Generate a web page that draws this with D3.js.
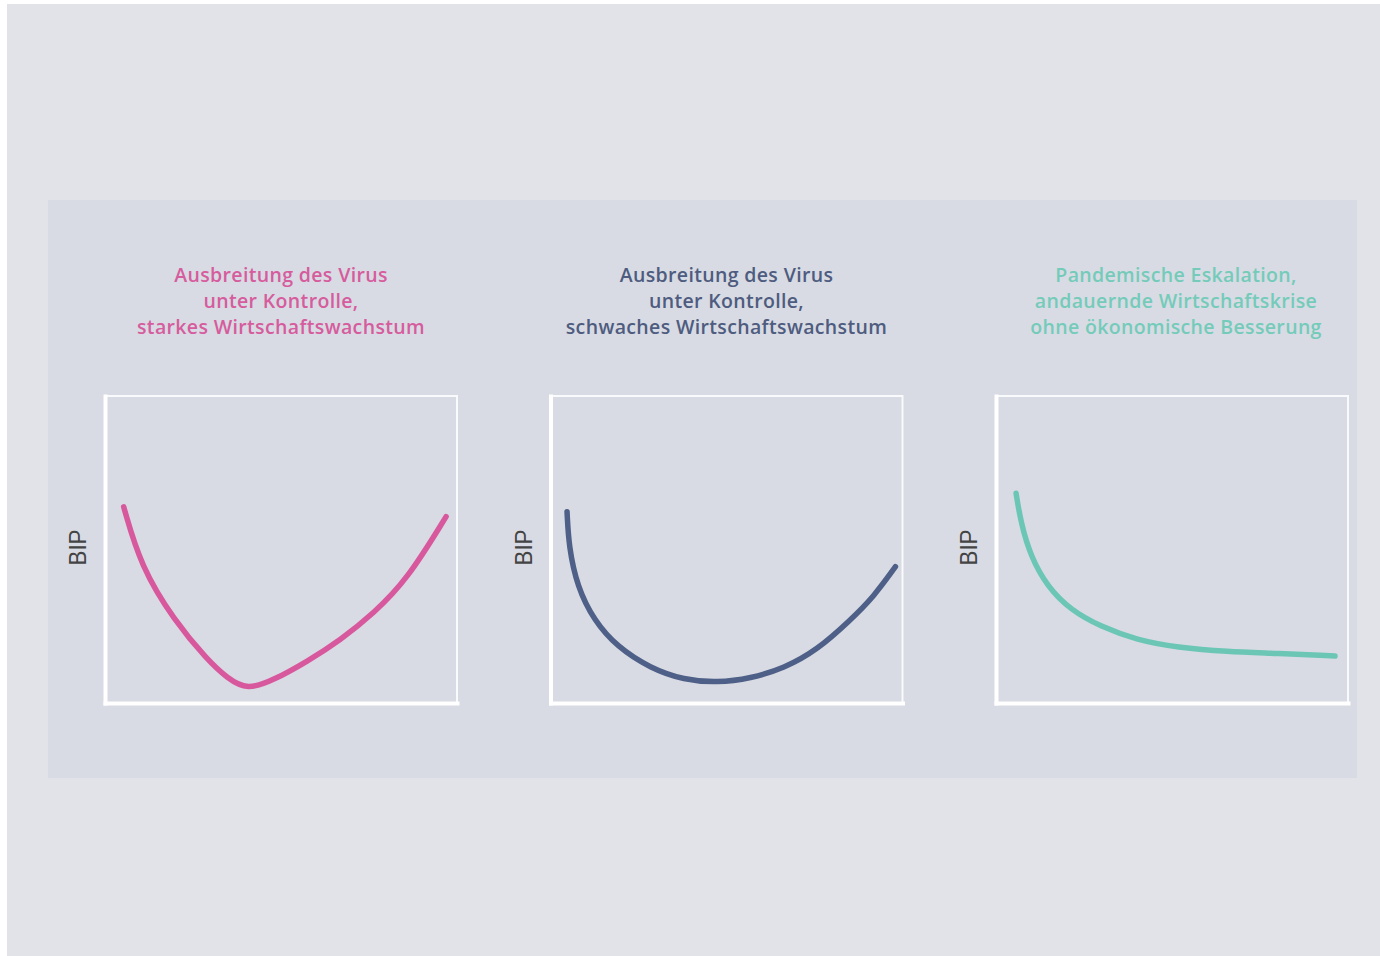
<!DOCTYPE html>
<meta charset="utf-8">
<html>
<head>
  <title>BIP Szenarien</title>
  <style>
    html, body { margin: 0; padding: 0; background: #ffffff; }
    svg { display: block; }
    .title { font-family: "Open Sans", sans-serif; font-size: 19.5px; font-weight: 600; letter-spacing: 0.35px; }
    .ylabel { font-family: "Liberation Sans", Arial, sans-serif; font-size: 24px; fill: #444; }
  </style>
</head>
<body>

<svg id="chart" width="1380" height="956"></svg>

<script src="https://d3js.org/d3.v7.min.js"></script>
<script>

// Scenario titles (three lines each)
const titles = [
  ["Ausbreitung des Virus", "unter Kontrolle,", "starkes Wirtschaftswachstum"],
  ["Ausbreitung des Virus", "unter Kontrolle,", "schwaches Wirtschaftswachstum"],
  ["Pandemische Eskalation,", "andauernde Wirtschaftskrise", "ohne ökonomische Besserung"]
];

const colors = ["#d8589e", "#4f6088", "#6cc6b6"];
const titleColors = ["#d65c9e", "#4e5c80", "#74cbba"];

const yLabel = "BIP";

// Curves, x = time (0-100), y = BIP (0-100)
const curveV = [
  [5.3, 63.9], [10.2, 44.4], [19.6, 27.0], [29.1, 14.0], [34.8, 8.0],
  [40.4, 4.2], [48.0, 7.5], [57.4, 13.5], [66.9, 20.5], [76.3, 29.2],
  [85.8, 40.1], [96.9, 60.7]
];
const curveU = [
  [4.7, 62.3], [5.2, 50.9], [7.6, 37.9], [12.3, 27.0], [18.9, 18.3],
  [28.4, 11.3], [37.9, 7.5], [47.4, 6.6], [56.8, 8.0], [66.3, 11.3],
  [75.8, 17.3], [85.2, 27.0], [91.8, 34.6], [98.0, 44.4]
];
const curveL = [
  [5.7, 68.3], [7.1, 58.5], [9.9, 47.6], [14.6, 37.9], [21.2, 30.3],
  [29.7, 24.9], [40.1, 20.5], [51.5, 18.1], [65.6, 16.7], [79.8, 16.2],
  [96.3, 15.3]
];
const curves = [curveV, curveU, curveL];

const svg = d3.select("#chart");

// backgrounds
svg.append("rect").attr("x", 7).attr("y", 4).attr("width", 1373).attr("height", 952).attr("fill", "#e2e3e8");
svg.append("rect").attr("x", 48).attr("y", 200).attr("width", 1309).attr("height", 578).attr("fill", "#d8dbe3");

const plotW = 352, plotH = 307, plotTop = 396, step = 445.5, left0 = 105;

curves.forEach((data, i) => {
  const left = left0 + i * step;
  const g = svg.append("g").attr("transform", `translate(${left},${plotTop})`);

  const x = d3.scaleLinear().domain([0, 100]).range([0, plotW]);
  const y = d3.scaleLinear().domain([0, 100]).range([plotH, 0]);

  // thin top / right frame
  g.append("path")
    .attr("d", `M0,0H${plotW}V${plotH}`)
    .attr("fill", "none")
    .attr("stroke", "#ffffff")
    .attr("stroke-opacity", 0.85)
    .attr("stroke-width", 2);

  // axes without ticks
  const xAxis = g.append("g")
    .attr("transform", `translate(0,${plotH})`)
    .call(d3.axisBottom(x).tickValues([]).tickSizeOuter(0));
  const yAxis = g.append("g")
    .call(d3.axisLeft(y).tickValues([]).tickSizeOuter(0));
  [xAxis, yAxis].forEach(a => a.select(".domain")
    .attr("stroke", "#ffffff")
    .attr("stroke-width", 4)
    .attr("stroke-linecap", "square"));

  // y label
  g.append("text")
    .attr("class", "ylabel")
    .attr("transform", `translate(-19,${plotH / 2 - 2}) rotate(-90)`)
    .attr("text-anchor", "middle")
    .attr("textLength", 36)
    .attr("lengthAdjust", "spacingAndGlyphs")
    .text(yLabel);

  // curve
  const line = d3.line()
    .x(d => x(d[0]))
    .y(d => y(d[1]))
    .curve(d3.curveBasis);

  g.append("path")
    .datum(data)
    .attr("fill", "none")
    .attr("stroke", colors[i])
    .attr("stroke-width", 5.5)
    .attr("stroke-linecap", "round")
    .attr("d", line);

  // title
  const t = svg.append("text")
    .attr("class", "title")
    .attr("text-anchor", "middle")
    .attr("fill", titleColors[i]);
  titles[i].forEach((s, k) => {
    t.append("tspan")
      .attr("x", left + plotW / 2 + (i === 2 ? 4 : 0))
      .attr("y", 282 + k * 26)
      .text(s);
  });
});

</script>
</body>
</html>
